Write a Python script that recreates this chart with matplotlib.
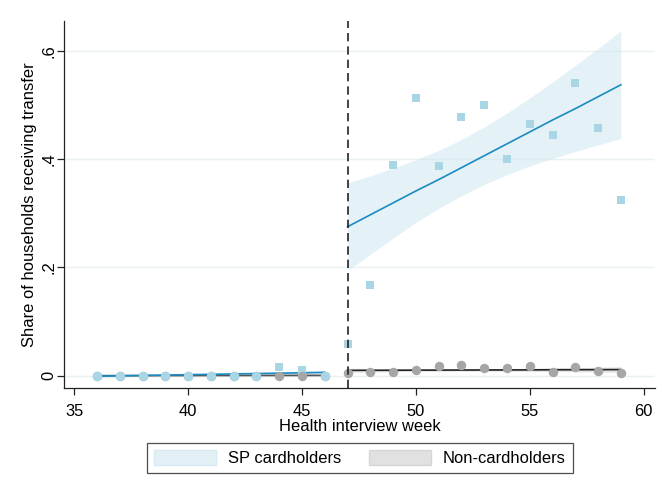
import numpy as np
import matplotlib
matplotlib.use("Agg")
import matplotlib.pyplot as plt
from matplotlib.patches import Patch

plt.rcParams['font.family'] = ['Liberation Sans', 'DejaVu Sans']

# ---------- data ----------
weeks_pre = [36, 37, 38, 39, 40, 41, 42, 43, 44, 45, 46]
non_pre = [0, 0, 0, 0, 0, 0, 0, 0, 0, 0, 0]
# cardholders, pre period: circles where they sit on zero, squares where above
sp_pre_circle_weeks = [36, 37, 38, 39, 40, 41, 42, 43, 46]
sp_pre_circle = [0, 0, 0, 0, 0, 0, 0, 0, 0]
sp_pre_square_weeks = [44, 45]
sp_pre_square = [0.016, 0.011]

sp_pre_fit = [-0.001, -0.0003, 0.0004, 0.0011, 0.0018, 0.0025, 0.0032, 0.0039, 0.0046, 0.0053, 0.006]
sp_pre_lo = [-0.004, -0.0028, -0.0017, -0.0007, 0.0002, 0.001, 0.0016, 0.002, 0.0022, 0.0022, 0.0015]
sp_pre_hi = [0.002, 0.0022, 0.0025, 0.0029, 0.0034, 0.004, 0.0048, 0.0058, 0.007, 0.0084, 0.0105]
non_pre_fit = [0.0, 0.0001, 0.0001, 0.0002, 0.0002, 0.0003, 0.0003, 0.0004, 0.0004, 0.0005, 0.0005]
non_pre_lo = [-0.002, -0.0015, -0.0011, -0.0008, -0.0006, -0.0005, -0.0005, -0.0006, -0.0008, -0.0011, -0.0015]
non_pre_hi = [0.002, 0.0017, 0.0013, 0.0012, 0.001, 0.0011, 0.0011, 0.0014, 0.0016, 0.0021, 0.0025]

weeks_post = [47, 48, 49, 50, 51, 52, 53, 54, 55, 56, 57, 58, 59]
sp_post = [0.059, 0.167, 0.389, 0.512, 0.388, 0.477, 0.500, 0.400, 0.465, 0.445, 0.541, 0.458, 0.325]
non_post = [0.005, 0.0074, 0.0074, 0.0098, 0.0185, 0.0197, 0.014, 0.014, 0.0179, 0.0074, 0.0154, 0.0086, 0.005]

sp_post_fit = [0.275, 0.297, 0.319, 0.341, 0.362, 0.384, 0.406, 0.428, 0.450, 0.472, 0.493, 0.515, 0.537]
sp_post_hi = [0.356, 0.369, 0.383, 0.399, 0.416, 0.436, 0.459, 0.485, 0.513, 0.542, 0.573, 0.604, 0.637]
sp_post_lo = [0.194, 0.224, 0.254, 0.283, 0.309, 0.332, 0.353, 0.371, 0.387, 0.401, 0.414, 0.426, 0.438]
non_post_fit = [0.0098, 0.0099, 0.0100, 0.0102, 0.0103, 0.0104, 0.0105, 0.0106, 0.0107, 0.0109, 0.0110, 0.0111, 0.0112]
non_post_lo = [0.0058, 0.0066, 0.0073, 0.0078, 0.0081, 0.0082, 0.0082, 0.0081, 0.0079, 0.0076, 0.0072, 0.0066, 0.0059]
non_post_hi = [0.0138, 0.0132, 0.0127, 0.0126, 0.0125, 0.0126, 0.0128, 0.0131, 0.0135, 0.0142, 0.0148, 0.0156, 0.0165]

cutoff_week = 47
xticks = [35, 40, 45, 50, 55, 60]
yticks = [0, 0.2, 0.4, 0.6]
ytick_labels = ["0", ".2", ".4", ".6"]

# ---------- colours ----------
LIGHT_BLUE = "#a9d6e5"
FIT_BLUE = "#1a8bc2"
BAND_BLUE = "#cfe7f0"
GREY_PT = "#a6a6a6"
BAND_GREY = "#d9d9d9"
FS = 11.9

fig = plt.figure(figsize=(6.62, 4.87), dpi=100)
ax = fig.add_axes([0.0971, 0.2027, 0.8923, 0.7548])

for y in yticks:
    ax.axhline(y, color="#e9f1f3", lw=1.0, zorder=0)

# confidence bands
ax.fill_between(weeks_post, sp_post_lo, sp_post_hi, color=BAND_BLUE, alpha=0.55, lw=0, zorder=1)
ax.fill_between(weeks_post, non_post_lo, non_post_hi, color=BAND_GREY, alpha=0.7, lw=0, zorder=1)
ax.fill_between(weeks_pre, sp_pre_lo, sp_pre_hi, color=BAND_BLUE, alpha=0.55, lw=0, zorder=1)
ax.fill_between(weeks_pre, non_pre_lo, non_pre_hi, color=BAND_GREY, alpha=0.7, lw=0, zorder=1)

# fitted lines
ax.plot(weeks_pre, non_pre_fit, color="#555555", lw=1.2, zorder=2)
ax.plot(weeks_pre, sp_pre_fit, color=FIT_BLUE, lw=1.2, zorder=2)
ax.plot(weeks_post, non_post_fit, color="#222222", lw=1.2, zorder=2)
ax.plot(weeks_post, sp_post_fit, color=FIT_BLUE, lw=1.2, zorder=2)

# points
ax.plot(sp_pre_square_weeks, sp_pre_square, "s", color=LIGHT_BLUE, ms=5.3, mew=0, zorder=3)
ax.plot(weeks_pre, non_pre, "o", color=GREY_PT, ms=6.8, mew=0, zorder=4)
ax.plot(sp_pre_circle_weeks, sp_pre_circle, "o", color=LIGHT_BLUE, ms=6.8, mew=0, zorder=5)
ax.plot(weeks_post, sp_post, "s", color=LIGHT_BLUE, ms=5.3, mew=0, zorder=3)
ax.plot(weeks_post, non_post, "o", color=GREY_PT, ms=6.8, mew=0, zorder=4)

ax.axvline(cutoff_week, color="#222222", lw=1.2, ls=(0, (5, 3)), zorder=6)

ax.set_xlim(34.56, 60.5)
ax.set_ylim(-0.0233, 0.6554)
ax.set_xticks(xticks)
ax.set_yticks(yticks)
ax.set_yticklabels(ytick_labels)
for s in ["top", "right"]:
    ax.spines[s].set_visible(False)
for s in ["left", "bottom"]:
    ax.spines[s].set_color("#222222")
    ax.spines[s].set_linewidth(0.9)
ax.tick_params(axis="x", length=5, width=0.9, color="#222222", labelsize=FS, pad=6)
ax.tick_params(axis="y", length=5, width=0.9, color="#222222", labelsize=FS, pad=0.5,
               labelrotation=90)
for lab in ax.get_yticklabels():
    lab.set_va("center")
ax.set_xlabel("Health interview week", fontsize=FS, labelpad=0)
ax.set_ylabel("Share of households receiving transfer", fontsize=FS, labelpad=3)

handles = [Patch(facecolor="#e3f1f6", edgecolor="#d6eaf2", label="SP cardholders"),
           Patch(facecolor="#e1e1e1", edgecolor="#d6d6d6", label="Non-cardholders")]
leg = fig.legend(handles=handles, ncol=2, loc="center", bbox_to_anchor=(0.5438, 0.0595),
                 fontsize=FS, frameon=True, fancybox=False, handlelength=3.75,
                 handleheight=1.0, handletextpad=0.7, columnspacing=1.7, borderpad=0.45)
leg.get_frame().set_edgecolor("#222222")
leg.get_frame().set_linewidth(0.9)

fig.savefig("out.png", dpi=100)
